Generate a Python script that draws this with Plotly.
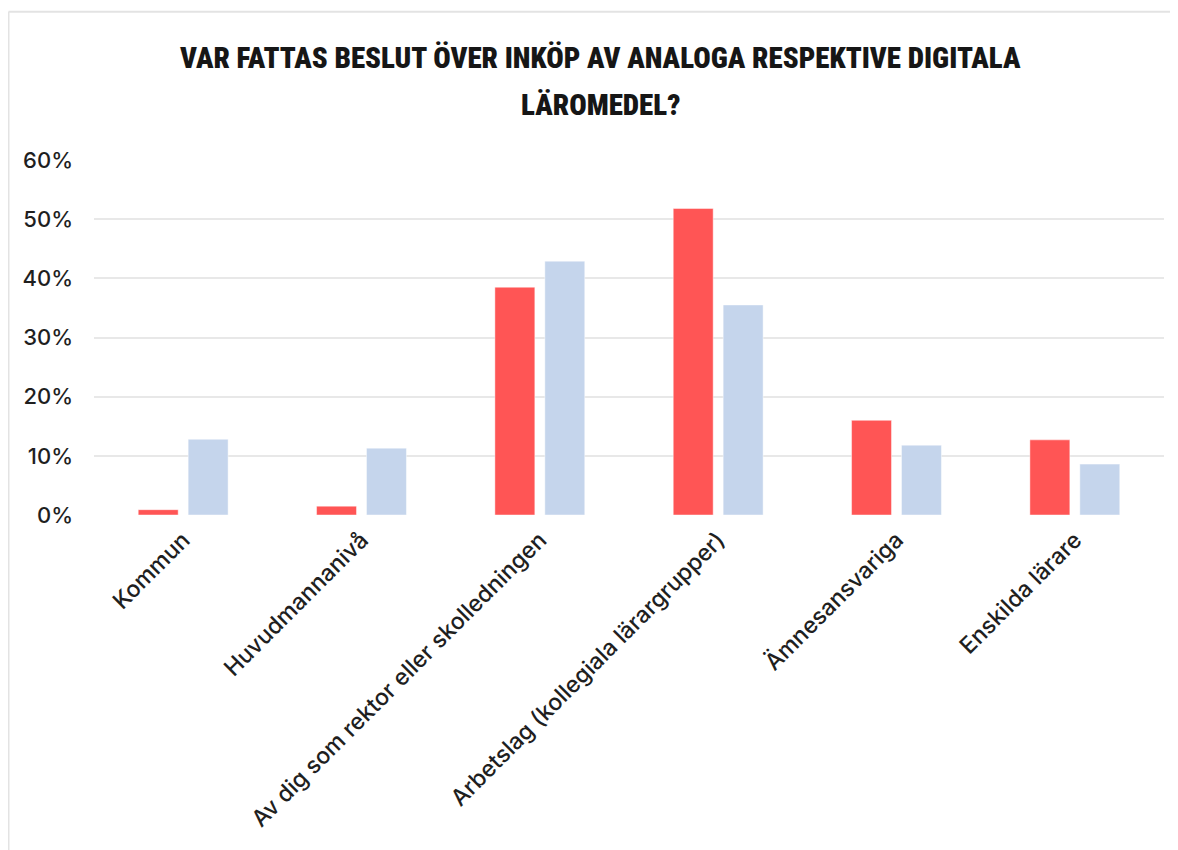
import plotly.graph_objects as go

categories = [
    "Kommun",
    "Huvudmannanivå",
    "Av dig som rektor eller skolledningen",
    "Arbetslag (kollegiala lärargrupper)",
    "Ämnesansvariga",
    "Enskilda lärare",
]
analoga = [0.9, 1.5, 38.5, 51.8, 16.0, 12.7]
digitala = [12.8, 11.3, 42.9, 35.5, 11.8, 8.6]
y_ticks = [0, 10, 20, 30, 40, 50, 60]
title_lines = ["VAR FATTAS BESLUT ÖVER INKÖP AV ANALOGA RESPEKTIVE DIGITALA", "LÄROMEDEL?"]

W, H = 1178, 850
OFF = 8  # page body margin offset
L = 94 - OFF
T = 160 - OFF
R = W - (1164 - OFF)
B = H - (515.5 - OFF)
pw, ph = W - L - R, H - T - B

def px_x(sx):
    return (sx - OFF - L) / pw

def px_y(sy):
    return (H - B - (sy - OFF)) / ph

fig = go.Figure()
fig.add_trace(go.Bar(
    x=categories, y=analoga, name="Analoga",
    marker=dict(color="#FF5555", line=dict(color="rgba(255,255,255,0.45)", width=1)),
))
fig.add_trace(go.Bar(
    x=categories, y=digitala, name="Digitala",
    marker=dict(color="#C5D5EC", line=dict(color="rgba(255,255,255,0.45)", width=1)),
))

title_font = dict(family="Roboto Condensed, Liberation Sans Narrow, DejaVu Sans Condensed, sans-serif",
                  size=29, color="#161616", weight=900)
fig.add_annotation(text=title_lines[0], x=px_x(600.5), y=px_y(58), xref="paper", yref="paper",
                   xanchor="center", yanchor="middle", showarrow=False, font=title_font)
fig.add_annotation(text=title_lines[1], x=px_x(600.5), y=px_y(105), xref="paper", yref="paper",
                   xanchor="center", yanchor="middle", showarrow=False, font=title_font)

border = dict(color="#e3e3e3", width=2)
fig.add_shape(type="line", xref="paper", yref="paper", x0=px_x(8.5), x1=px_x(1200),
              y0=px_y(11.5), y1=px_y(11.5), line=border)
fig.add_shape(type="line", xref="paper", yref="paper", x0=px_x(8.5), x1=px_x(8.5),
              y0=px_y(11.5), y1=px_y(870), line=border)

fig.update_layout(
    width=W, height=H,
    margin=dict(l=L, r=R, t=T, b=B, autoexpand=False),
    paper_bgcolor="white", plot_bgcolor="white",
    barmode="group", bargap=0.44, bargroupgap=0.2,
    showlegend=False,
    font=dict(family="Inter, Liberation Sans, Arial, sans-serif", color="#1f1f1f"),
)
fig.update_yaxes(
    range=[0, 60], tickvals=y_ticks, ticktext=[f"{v}%" for v in y_ticks],
    showgrid=True, gridcolor="#e8e8e8", gridwidth=2, zeroline=False, showline=False,
    tickfont=dict(size=22, color="#1f1f1f", weight=500), ticks="", ticklabelstandoff=20,
)
fig.update_xaxes(
    tickangle=-45, tickfont=dict(size=23, color="#1f1f1f", weight=500),
    showline=False, showgrid=False, ticks="", ticklabelstandoff=6,
)

fig.write_html("out.html")
